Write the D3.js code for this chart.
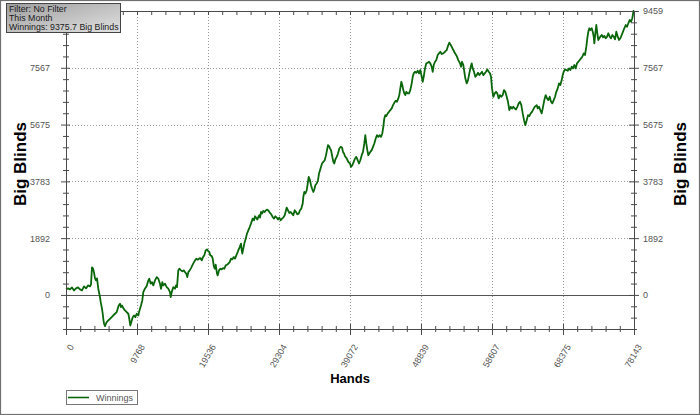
<!DOCTYPE html>
<html><head><meta charset="utf-8">
<script src="https://cdn.jsdelivr.net/npm/d3@7"></script>
<style>
body{margin:0;background:#fff;}
svg{display:block;}
</style></head><body>
<svg id="c" width="700" height="415"></svg>
<script>
const hands = [
0,275,550,826,1101,1376,1651,1926,2201,2476,2752,3027,3302,3439,3577,3715,3852,3990,4127,4265,
4334,4444,4582,4678,4774,4912,5049,5132,5228,5366,5503,5600,5820,6054,6287,6508,6742,6975,7113,7251,
7429,7567,7704,7883,8117,8351,8571,8709,8846,8984,9177,9355,9534,9727,9947,10043,10181,10319,10497,10635,
10869,11103,11323,11460,11653,11832,12011,
12245,12478,12699,12933,13070,13249,13387,13620,13854,14075,14308,14405,14542,14763,14996,15134,15271,15450,15588,15822,
16000,16193,16372,16551,16689,16826,17019,17198,17376,17569,17748,17927,18119,18298,18477,18670,18848,19027,19220,19399,
19577,19715,19853,20045,20183,20320,20458,20596,20775,20871,21050,21229,21421,21600,21779,21972,22150,22329,22522,22701,
22879,23072,23251,23430,23622,23705,23897,24076,24173,24255,24393,24531,24723,24902,25081,25273,25452,
25686,25865,26003,26140,26319,26457,26594,26691,26828,26966,27145,27337,27516,27695,27888,28066,28245,28438,28617,28796,
28988,29167,29346,29538,29717,29896,30089,30268,30364,30543,30721,30914,31093,31272,31465,31643,31822,32015,32194,32373,
32565,32648,32786,32923,33116,33254,33391,33570,33707,33845,34024,34161,34299,34492,34670,34808,34945,35083,35221,35400,
35592,35771,35908,36046,36184,36321,36459,36597,36776,36913,37051,37244,37422,37601,37794,37972,38110,38248,
38385,38619,38839,39073,39210,39389,39582,39761,39939,40132,40311,40490,40682,40861,41040,41178,41315,41453,41590,41728,
41866,42058,42237,42416,42609,42787,42966,43159,43338,43516,43654,43792,43929,44067,44260,44438,44617,44810,44989,45167,
45360,45539,45718,45855,45993,46130,46268,46406,46543,46681,46819,47011,47190,47369,47562,47699,47837,48015,48194,48387,
48566,48744,48937,49075,49212,49391,49570,49762,49941,50120,50313,50450,50588,50767,50945,51138,51317,51496,
51689,51910,52143,52377,52597,52735,52928,53106,53285,53519,53753,53973,54207,54345,54482,54661,54799,54936,55129,55308,
55487,55679,55817,55955,56133,56312,56505,56683,56862,57055,57233,57412,57605,57784,57962,58155,58334,58472,58609,58788,
58981,59159,59338,59531,59710,59889,60081,60260,60439,60632,60810,60989,61182,61361,61539,61732,61911,62090,62282,62461,
62640,62833,63011,63190,63383,63562,63740,63933,64112,64291,64483,
64758,64896,65075,65254,65446,65625,65804,65997,66176,66354,66547,66726,66905,67097,67276,67455,67648,67826,68005,68198,
68336,68473,68652,68831,69024,69203,69381,69574,69753,69932,70124,70303,70482,70675,70854,71033,71225,71404,71583,71720,
71858,71996,72133,72326,72464,72601,72684,72821,72959,73097,73234,73372,73509,73702,73881,74060,74252,74431,74610,74803,
74981,75160,75353,75532,75710,75903,76082,76261,76453,76632,76811,77004,77182,77361,77554,77733,77911,78077,78143
];
const winnings = [
184,217,184,250,150,217,250,184,150,284,217,317,284,350,918,884,751,551,484,551,
417,207,40,-73,-240,-407,-617,-794,-951,-1041,-951,-908,-851,-794,-741,-684,-627,-574,-461,-350,
-294,-407,-350,-440,-517,-574,-627,-794,-1018,-908,-741,-684,-741,-627,-684,-574,-461,-350,-184,93,
217,294,484,541,374,427,317,
484,594,541,374,207,427,317,374,260,207,93,-73,93,260,207,317,260,818,874,818,
784,818,761,707,594,761,818,894,984,1075,1151,1208,1175,1208,1228,1151,1261,1318,1485,1518,
1452,1428,1318,1295,1208,984,874,1008,707,651,818,874,851,894,874,984,1008,1041,1095,1208,
1185,1261,1208,1318,1428,1485,1595,1709,1485,1375,1542,1709,1875,2042,2152,2262,2376,
2543,2486,2620,2576,2509,2596,2653,2576,2763,2710,2796,2763,2820,2843,2796,2730,2686,2596,2543,2620,
2576,2509,2576,2486,2543,2576,2653,2820,2910,2820,2730,2763,2710,2653,2820,2763,2686,2710,2820,2876,
3043,3264,3430,3377,3487,3711,3931,3821,3654,3544,3430,3511,3654,3711,3821,4044,4155,4265,4378,4432,
4488,4655,4822,4989,4955,4879,4822,4655,4432,4378,4512,4598,4712,4879,4932,4912,4765,4712,
4622,4545,4432,4378,4265,4321,4432,4545,4598,4488,4378,4488,4655,4765,5046,5322,5046,4822,4655,4712,
4765,4822,4932,5046,5212,5322,5266,5322,5266,5379,5600,5880,5990,5957,6047,6100,6157,6213,6324,6400,
6467,6434,6547,6657,6881,7101,6991,6824,6714,6657,6767,6714,6714,6824,7048,7268,7381,7435,7401,7468,
7381,7492,7268,7101,7268,7548,7715,7735,7768,7715,7602,7435,7659,7768,7825,7992,8049,8102,
8025,8049,8102,8159,8326,8403,8326,8249,8159,8049,7959,7825,7715,7602,7768,7659,7435,7215,7048,7158,
7381,7602,7715,7548,7435,7268,7325,7401,7325,7381,7435,7325,7381,7435,7515,7435,7381,7268,6881,6601,
6714,6767,6714,6547,6657,6601,6657,6824,6767,6601,6434,6157,6267,6213,6267,6213,6180,6267,6380,6434,
6324,6047,5823,5656,5823,5990,5957,6047,6100,6180,6267,
6324,6213,6267,6157,6047,6267,6491,6657,6547,6491,6601,6434,6380,6491,6601,6767,6881,7048,6991,7158,
7325,7435,7515,7492,7468,7548,7492,7602,7548,7659,7548,7715,7768,7825,7882,7935,8049,7992,8269,8549,
8770,8883,8826,8883,8770,8603,8383,8716,8993,8716,8493,8549,8603,8660,8583,8626,8549,8603,8716,8603,
8549,8660,8603,8516,8770,8603,8493,8549,8660,8770,8883,8993,8936,9050,9160,9103,9217,9459,9376
];
const xTickValues = [0, 9768, 19536, 29304, 39072, 48839, 58607, 68375, 78143];
const xTickLabels = ["0","9768","19536","29304","39072","48839","58607","68375","78143"];
const yTickValues = [0, 1892, 3783, 5675, 7567, 9459];
const yTickLabels = ["0","1892","3783","5675","7567","9459"];
const yMin = -1135;
const infoLines = ["Filter: No Filter", "This Month", "Winnings: 9375.7 Big Blinds"];
const seriesName = "Winnings";
const xTitle = "Hands";
const yTitle = "Big Blinds";

const FONT = "'Liberation Sans', Arial, sans-serif";
const L = 66, R = 634, T = 11, B = 329;
const svg = d3.select("#c").attr("font-family", FONT);
const x = d3.scaleLinear().domain([0, 78143]).range([L, R]);
const y = d3.scaleLinear().domain([yMin, 9459]).range([B, T]);

svg.append("rect").attr("x", 0.5).attr("y", 0.5).attr("width", 699).attr("height", 414)
  .attr("fill", "#fff").attr("stroke", "#707070").attr("stroke-width", 1.2);

// minor tick values
const xMinor = [];
for (let i = 0; i < xTickValues.length - 1; i++) {
  const a = xTickValues[i], b = xTickValues[i + 1];
  for (let j = 1; j < 5; j++) xMinor.push(a + (b - a) * j / 5);
}
const yStep = (yTickValues[1] - yTickValues[0]) / 5;
const yMinor = [];
for (let i = 0; i < yTickValues.length - 1; i++) {
  const a = yTickValues[i], b = yTickValues[i + 1];
  for (let j = 1; j < 5; j++) yMinor.push(a + (b - a) * j / 5);
}
for (let v = -yStep; v >= yMin - 1; v -= yStep) yMinor.push(v);

// grid
const grid = svg.append("g").attr("stroke", "#9a9a9a").attr("stroke-dasharray", "1,2");
grid.selectAll(".vg").data(xTickValues.slice(1, -1)).join("line")
  .attr("x1", d => Math.round(x(d)) + 0.5).attr("x2", d => Math.round(x(d)) + 0.5)
  .attr("y1", T).attr("y2", B);
grid.selectAll(".hg").data(yTickValues.slice(1, -1)).join("line")
  .attr("y1", d => Math.round(y(d)) + 0.5).attr("y2", d => Math.round(y(d)) + 0.5)
  .attr("x1", L).attr("x2", R);

// zero line
svg.append("line").attr("x1", L).attr("x2", R)
  .attr("y1", Math.round(y(0)) + 0.5).attr("y2", Math.round(y(0)) + 0.5)
  .attr("stroke", "#555");

// series line
const line = d3.line().x((d, i) => x(hands[i])).y((d, i) => y(winnings[i]));
svg.append("path").datum(winnings).attr("d", line)
  .attr("fill", "none").attr("stroke", "#0a660a").attr("stroke-width", 1.8)
  .attr("stroke-linejoin", "round");

function styleAxis(g) {
  g.attr("font-family", FONT).attr("font-size", 9);
  g.select(".domain").attr("stroke", "#4a4a4a");
  g.selectAll(".tick line").attr("stroke", "#4a4a4a");
  g.selectAll(".tick text").attr("fill", "#555");
}

// left axis (top label is hidden behind the info box in the reference)
const gL = svg.append("g").attr("transform", `translate(${L},0)`)
  .call(d3.axisLeft(y).tickValues(yTickValues)
    .tickFormat((d, i) => i === yTickValues.length - 1 ? "" : yTickLabels[i])
    .tickSizeInner(5).tickSizeOuter(0).tickPadding(11));
styleAxis(gL);
gL.selectAll(".tick line").attr("x1", 4).attr("x2", -5);
const gLm = svg.append("g").attr("transform", `translate(${L},0)`)
  .call(d3.axisLeft(y).tickValues(yMinor).tickFormat("").tickSizeInner(3).tickSizeOuter(0));
styleAxis(gLm); gLm.select(".domain").remove();
gLm.selectAll(".tick line").attr("x1", 3).attr("x2", -3);

// right axis
const gR = svg.append("g").attr("transform", `translate(${R},0)`)
  .call(d3.axisRight(y).tickValues(yTickValues).tickFormat((d, i) => yTickLabels[i])
    .tickSizeInner(5).tickSizeOuter(0).tickPadding(4));
styleAxis(gR);
gR.selectAll(".tick line").attr("x1", -5).attr("x2", 5);
const gRm = svg.append("g").attr("transform", `translate(${R},0)`)
  .call(d3.axisRight(y).tickValues(yMinor).tickFormat("").tickSizeInner(3).tickSizeOuter(0));
styleAxis(gRm); gRm.select(".domain").remove();
gRm.selectAll(".tick line").attr("x1", -3).attr("x2", 3);

// top axis
const gT = svg.append("g").attr("transform", `translate(0,${T})`)
  .call(d3.axisTop(x).tickValues(xTickValues.concat(xMinor)).tickFormat("").tickSizeInner(-4).tickSizeOuter(0));
styleAxis(gT);

// bottom axis
const gB = svg.append("g").attr("transform", `translate(0,${B})`)
  .call(d3.axisBottom(x).tickValues(xTickValues).tickFormat((d, i) => xTickLabels[i])
    .tickSizeInner(6).tickSizeOuter(0));
styleAxis(gB);
gB.selectAll(".tick line").attr("y1", -5).attr("y2", 6);
gB.selectAll(".tick text").attr("x", 0).attr("y", 0).attr("dy", "0.35em")
  .attr("text-anchor", "end").attr("transform", "translate(5,16) rotate(-60)");
const gBm = svg.append("g").attr("transform", `translate(0,${B})`)
  .call(d3.axisBottom(x).tickValues(xMinor).tickFormat("").tickSizeInner(3).tickSizeOuter(0));
styleAxis(gBm); gBm.select(".domain").remove();
gBm.selectAll(".tick line").attr("y1", -3).attr("y2", 3);

// titles
svg.append("text").attr("transform", "translate(26,164) rotate(-90)")
  .attr("text-anchor", "middle").attr("font-weight", "bold").attr("font-size", 17)
  .attr("fill", "#000").text(yTitle);
svg.append("text").attr("transform", "translate(686,164) rotate(-90)")
  .attr("text-anchor", "middle").attr("font-weight", "bold").attr("font-size", 17)
  .attr("fill", "#000").text(yTitle);
svg.append("text").attr("x", (L + R) / 2).attr("y", 383)
  .attr("text-anchor", "middle").attr("font-weight", "bold").attr("font-size", 13)
  .attr("fill", "#000").text(xTitle);

// info box
const defs = svg.append("defs");
const grad = defs.append("linearGradient").attr("id", "ib").attr("x1", "0").attr("y1", "0").attr("x2", "1").attr("y2", "1");
grad.append("stop").attr("offset", "0").attr("stop-color", "#9e9e9e");
grad.append("stop").attr("offset", "1").attr("stop-color", "#e2e2e2");
svg.append("rect").attr("x", 6.5).attr("y", 3.5).attr("width", 114).attr("height", 29)
  .attr("fill", "url(#ib)").attr("stroke", "#444");
svg.append("g").selectAll("text").data(infoLines).join("text")
  .attr("x", 9).attr("y", (d, i) => 11.5 + i * 9)
  .attr("font-size", 8.8).attr("fill", "#1a1a1a").text(d => d);

// legend
const lg = svg.append("g");
lg.append("rect").attr("x", 66.5).attr("y", 390.5).attr("width", 71).attr("height", 14)
  .attr("fill", "#fff").attr("stroke", "#777");
lg.append("line").attr("x1", 68).attr("x2", 89).attr("y1", 397.5).attr("y2", 397.5)
  .attr("stroke", "#0a660a").attr("stroke-width", 1.6);
lg.append("text").attr("x", 96).attr("y", 401).attr("font-size", 9).attr("fill", "#555").text(seriesName);
</script>
</body></html>
